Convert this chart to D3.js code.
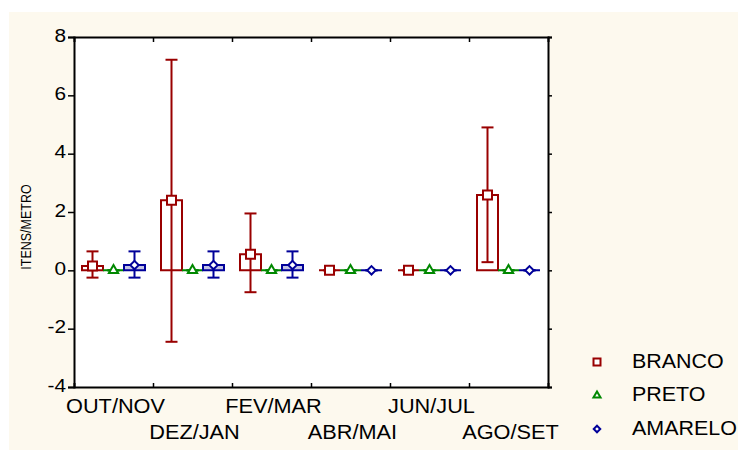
<!DOCTYPE html>
<html>
<head>
<meta charset="utf-8">
<script src="https://cdn.jsdelivr.net/npm/d3@7"></script>
<style>
  body { margin: 0; background: #ffffff; }
  text { font-family: Arial, "Liberation Sans", sans-serif; fill: #000; }
</style>
</head>
<body>
<div id="chart"></div>
<script>
// Datos
const categorias = ["OUT/NOV", "DEZ/JAN", "FEV/MAR", "ABR/MAI", "JUN/JUL", "AGO/SET"];
const series = ["BRANCO", "PRETO", "AMARELO"];

const brancoMedia = [0.15, 2.4, 0.55, 0, 0, 2.58];
const brancoMin   = [-0.25, -2.45, -0.75, 0, 0, 0.28];
const brancoMax   = [0.65, 7.22, 1.95, 0, 0, 4.9];

const pretoMedia = [0, 0, 0, 0, 0, 0];
const pretoMin   = [0, 0, 0, 0, 0, 0];
const pretoMax   = [0, 0, 0, 0, 0, 0];

const amareloMedia = [0.18, 0.18, 0.18, 0, 0, 0];
const amareloMin   = [-0.25, -0.25, -0.25, 0, 0, 0];
const amareloMax   = [0.65, 0.65, 0.65, 0, 0, 0];

const yTicks = [-4, -2, 0, 2, 4, 6, 8];

const width = 738, height = 450;
const plot = { left: 74, right: 548, top: 37, bottom: 387 };

const estilos = {
    BRANCO:  { color: "#990000", fillBox: "#ffffff", marker: "square" },
    PRETO:   { color: "#008800", fillBox: "#ffffff", marker: "triangle" },
    AMARELO: { color: "#000099", fillBox: "#c4c4e4", marker: "diamond" }
};

function armarDatos() {
    const medias = [brancoMedia, pretoMedia, amareloMedia];
    const mins = [brancoMin, pretoMin, amareloMin];
    const maxs = [brancoMax, pretoMax, amareloMax];
    let filas = [];
    categorias.forEach((c, i) => {
        series.forEach((s, j) => {
            filas.push({ cat: c, serie: s, media: medias[j][i], min: mins[j][i], max: maxs[j][i] });
        });
    });
    return filas;
}

// texto estirado horizontalmente como en la figura original
function textoEstirado(g, x, y, txt, size, sx, anchor) {
    return g.append("text")
        .attr("transform", `translate(${x},${y}) scale(${sx},1)`)
        .attr("text-anchor", anchor)
        .style("font-size", size + "px")
        .text(txt);
}

function simbolo(tipo, size) {
    if (tipo === "square") return d3.symbol().type(d3.symbolSquare).size(size * size)();
    if (tipo === "triangle") return d3.symbol().type(d3.symbolTriangle).size(size * size * 0.45)();
    return d3.symbol().type(d3.symbolDiamond2).size(size * size * 0.55)();
}

// caja como path para que se vea aunque tenga altura cero
function caja(d) {
    const w = xSub.bandwidth() / 2;
    const y0 = yScale(0), y1 = yScale(d.media);
    const p = d3.path();
    p.moveTo(-w, y0);
    p.lineTo(w, y0);
    p.lineTo(w, y1);
    p.lineTo(-w, y1);
    p.closePath();
    return p.toString();
}

const svg = d3.select("#chart").append("svg")
    .attr("width", width)
    .attr("height", height);

// fondo crema
svg.append("rect")
    .attr("x", 9).attr("y", 12)
    .attr("width", width - 9).attr("height", height - 12)
    .attr("fill", "#fdf9ee");

svg.append("rect")
    .attr("x", plot.left).attr("y", plot.top)
    .attr("width", plot.right - plot.left).attr("height", plot.bottom - plot.top)
    .attr("fill", "#ffffff");

const xScale = d3.scaleBand()
    .domain(categorias)
    .range([plot.left, plot.right])
    .paddingInner(0);

const xSub = d3.scaleBand()
    .domain(series)
    .range([-31.5, 31.5]);

const yScale = d3.scaleLinear()
    .domain([-4, 8])
    .range([plot.bottom, plot.top]);

const idxScale = d3.scaleLinear()
    .domain([0, categorias.length])
    .range([plot.left, plot.right]);

// ejes
const ejeIzq = svg.append("g")
    .attr("transform", `translate(${plot.left},0)`)
    .call(d3.axisLeft(yScale).tickValues(yTicks).tickSize(6).tickFormat(""));
const ejeDer = svg.append("g")
    .attr("transform", `translate(${plot.right},0)`)
    .call(d3.axisLeft(yScale).tickValues(yTicks).tickSize(-4).tickFormat(""));
const ejeSup = svg.append("g")
    .attr("transform", `translate(0,${plot.top})`)
    .call(d3.axisTop(idxScale).tickValues([1, 2, 3, 4, 5]).tickSize(-5).tickFormat(""));
const ejeInf = svg.append("g")
    .attr("transform", `translate(0,${plot.bottom})`)
    .call(d3.axisBottom(idxScale).tickValues([1, 2, 3, 4, 5]).tickSize(-4).tickFormat(""));

[ejeIzq, ejeDer, ejeSup, ejeInf].forEach(g => {
    g.select(".domain").attr("stroke", "#000").attr("stroke-width", 2);
    g.selectAll(".tick line").attr("stroke", "#000").attr("stroke-width", 1.5);
});

// etiquetas del eje Y
const etiquetas = svg.append("g");
yTicks.forEach(t => {
    textoEstirado(etiquetas, 66, yScale(t) + 4.7, t, 18.6, 1.12, "end");
});

// etiquetas del eje X en dos filas alternadas
categorias.forEach((c, i) => {
    const cx = xScale(c) + xScale.bandwidth() / 2 + 2;
    const cy = i % 2 === 0 ? 413 : 439;
    textoEstirado(etiquetas, cx, cy, c, 20.5, 1.06, "middle");
});

// titulo eje Y
svg.append("text")
    .attr("transform", "translate(31,227) scale(1.12,1) rotate(-90)")
    .attr("text-anchor", "middle")
    .style("font-size", "12.5px")
    .text("ITENS/METRO");

// cajas, bigotes y marcadores
const datos = armarDatos();
const grupos = svg.selectAll(".grupo")
    .data(datos)
    .enter()
    .append("g")
    .attr("class", "grupo")
    .attr("transform", d => `translate(${xScale(d.cat) + xScale.bandwidth() / 2 + xSub(d.serie) + xSub.bandwidth() / 2},0)`);

grupos.append("path")
    .attr("d", caja)
    .attr("fill", d => estilos[d.serie].fillBox)
    .attr("stroke", d => estilos[d.serie].color)
    .attr("stroke-width", 2);

grupos.append("line")
    .attr("x1", 0).attr("x2", 0)
    .attr("y1", d => yScale(d.min))
    .attr("y2", d => yScale(d.max))
    .attr("stroke", d => estilos[d.serie].color)
    .attr("stroke-width", 2);

grupos.selectAll(".cap")
    .data(d => [d.min, d.max].map(v => ({ v: v, serie: d.serie })))
    .enter()
    .append("line")
    .attr("class", "cap")
    .attr("x1", -6).attr("x2", 6)
    .attr("y1", d => yScale(d.v))
    .attr("y2", d => yScale(d.v))
    .attr("stroke", d => estilos[d.serie].color)
    .attr("stroke-width", 2);

grupos.append("path")
    .attr("transform", d => `translate(0,${yScale(d.media)})`)
    .attr("d", d => simbolo(estilos[d.serie].marker, 9))
    .attr("fill", "#ffffff")
    .attr("stroke", d => estilos[d.serie].color)
    .attr("stroke-width", 2);

// leyenda
const leyenda = svg.append("g");
series.forEach((s, i) => {
    const ly = 362 + i * 33.5;
    leyenda.append("path")
        .attr("transform", `translate(597,${ly})`)
        .attr("d", simbolo(estilos[s].marker, 7))
        .attr("fill", "#ffffff")
        .attr("stroke", estilos[s].color)
        .attr("stroke-width", 2);
    textoEstirado(leyenda, 632, ly + 5.5, s, 19.5, 1.1, "start");
});
</script>
</body>
</html>
